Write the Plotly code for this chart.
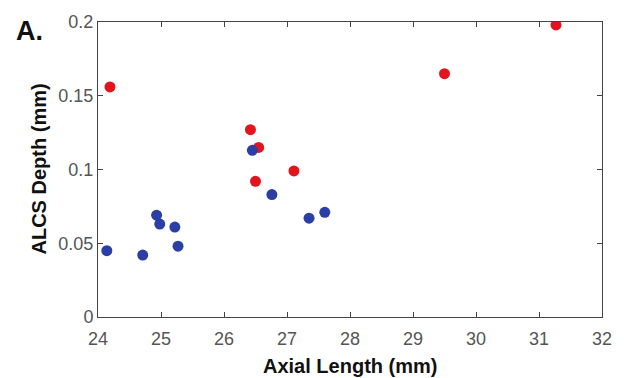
import plotly.graph_objects as go

red_x = [24.19, 31.27, 29.50, 26.42, 26.55, 26.50, 27.11]
red_y = [0.156, 0.198, 0.165, 0.127, 0.115, 0.092, 0.099]
blue_x = [26.45, 24.14, 24.71, 24.93, 24.98, 25.22, 25.27, 26.76, 27.35, 27.60]
blue_y = [0.113, 0.045, 0.042, 0.069, 0.063, 0.061, 0.048, 0.083, 0.067, 0.071]
x_ticks = [24, 25, 26, 27, 28, 29, 30, 31, 32]
y_ticks = [0, 0.05, 0.1, 0.15, 0.2]
y_tick_text = ["0", "0.05", "0.1", "0.15", "0.2"]

fig = go.Figure()
fig.add_trace(go.Scatter(x=red_x, y=red_y, mode="markers",
                         marker=dict(color="#e3151c", size=11, line=dict(width=0))))
fig.add_trace(go.Scatter(x=blue_x, y=blue_y, mode="markers",
                         marker=dict(color="#2a3ea6", size=11, line=dict(width=0))))

axis_common = dict(showgrid=False, zeroline=False, showline=True, linecolor="#444",
                   linewidth=1, mirror="ticks", ticks="inside", ticklen=5,
                   tickcolor="#444", tickfont=dict(family="Liberation Sans", size=18, color="#555"))
fig.update_xaxes(range=[24, 32], tickvals=x_ticks, ticklabelstandoff=5, **axis_common)
fig.update_yaxes(range=[0, 0.2], tickvals=y_ticks, ticktext=y_tick_text, **axis_common)

fig.add_annotation(text="Axial Length (mm)", xref="paper", yref="paper", x=0.5, y=0,
                   yshift=-49, showarrow=False, yanchor="middle",
                   font=dict(family="Liberation Sans", size=20, color="#111", weight="bold"))
fig.add_annotation(text="ALCS Depth (mm)", xref="paper", yref="paper", x=0, y=0.5,
                   xshift=-60, showarrow=False, textangle=-90, xanchor="center",
                   font=dict(family="Liberation Sans", size=20, color="#111", weight="bold"))
fig.add_annotation(text="A.", xref="paper", yref="paper", x=0, y=1, xshift=-84, yshift=8,
                   showarrow=False, xanchor="left", yanchor="top",
                   font=dict(family="Liberation Sans", size=27, color="#111", weight="bold"))

fig.update_layout(width=624, height=378, showlegend=False,
                  plot_bgcolor="white", paper_bgcolor="white",
                  margin=dict(l=98, r=21, t=15, b=61))
fig.write_html("out.html")
